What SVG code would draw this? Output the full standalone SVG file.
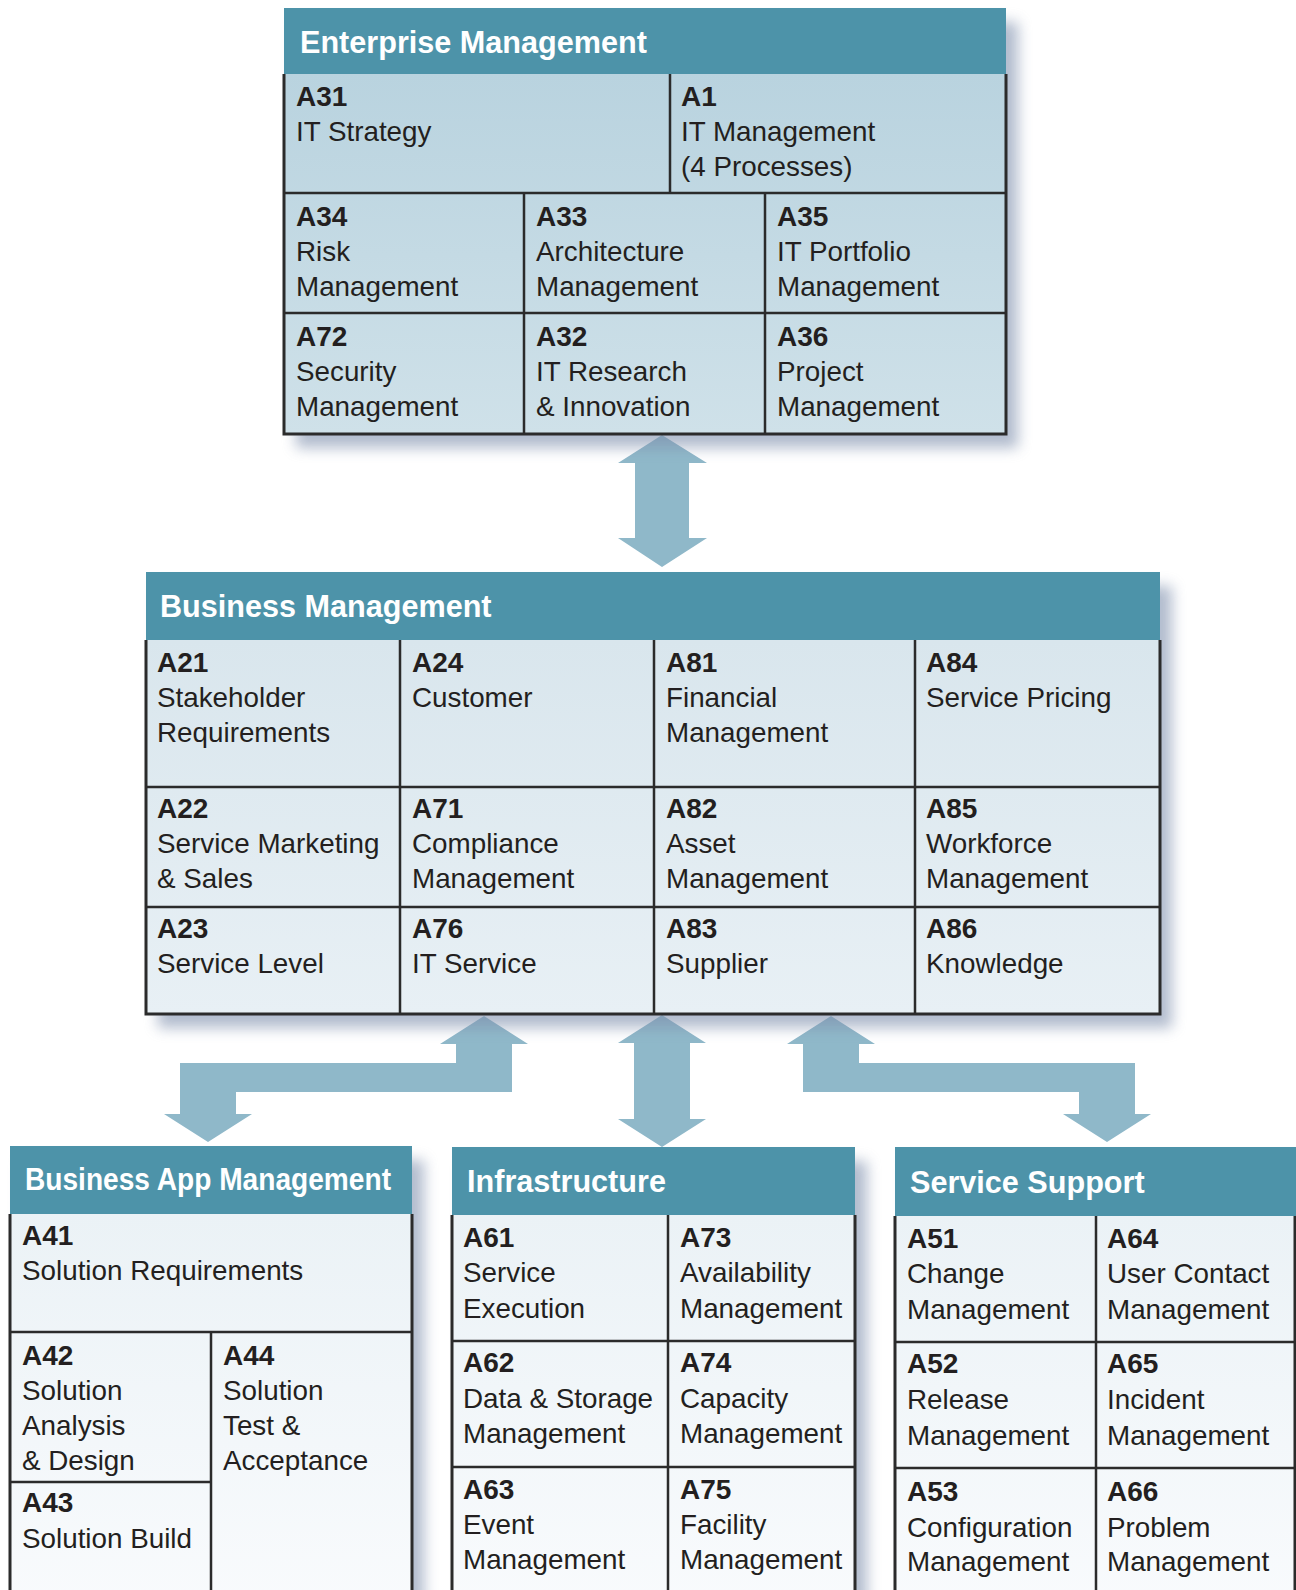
<svg xmlns="http://www.w3.org/2000/svg" width="1296" height="1590" viewBox="0 0 1296 1590">
  <defs>
    <style>
      .hdr { fill: #4d93a9; }
      .ht { font-family: "Liberation Sans", Arial, sans-serif; font-weight: bold; font-size: 30.6px; fill: #ffffff; }
      .id { font-family: "Liberation Sans", Arial, sans-serif; font-weight: bold; font-size: 28px; fill: #231f20; }
      .tx { font-family: "Liberation Sans", Arial, sans-serif; font-size: 27.8px; fill: #231f20; }
      .grid { stroke: #2b2b2b; stroke-width: 2.5; fill: none; }
      .edge { stroke: #2b2b2b; stroke-width: 3; fill: none; }
      .shadow { fill: #7f90ad; opacity: 0.6; filter: url(#soft); }
      .arrow { fill: #8fb8c9; }
    </style>
    <filter id="soft" x="-10%" y="-10%" width="130%" height="130%">
      <feGaussianBlur stdDeviation="7"/>
    </filter>
    <linearGradient id="gEnt" x1="0" y1="0" x2="0" y2="1">
      <stop offset="0" stop-color="#b9d3df"/>
      <stop offset="1" stop-color="#cfe1e9"/>
    </linearGradient>
    <linearGradient id="gBiz" x1="0" y1="0" x2="0" y2="1">
      <stop offset="0" stop-color="#d9e6ed"/>
      <stop offset="1" stop-color="#e8f0f5"/>
    </linearGradient>
    <linearGradient id="gLow" x1="0" y1="0" x2="0" y2="1">
      <stop offset="0" stop-color="#ebf2f6"/>
      <stop offset="1" stop-color="#f9fbfd"/>
    </linearGradient>
  </defs>

  <rect width="1296" height="1590" fill="#ffffff"/>

  <!-- block arrows between the layers -->
  <g id="connectors">
    <polygon class="arrow" points="662,435 707,463 689,463 689,538 707,538 662,567 618,538 635,538 635,463 618,463"/>
    <polygon class="arrow" points="484,1016 528,1044 512,1044 512,1092 236,1092 236,1114 252,1114 208,1142 164,1114 180,1114 180,1063 456,1063 456,1044 440,1044"/>
    <polygon class="arrow" points="662,1015 706,1043 690,1043 690,1119 706,1119 662,1147 618,1119 634,1119 634,1043 618,1043"/>
    <polygon class="arrow" points="831,1016 875,1044 859,1044 859,1063 1135,1063 1135,1114 1151,1114 1107,1142 1063,1114 1079,1114 1079,1092 803,1092 803,1044 787,1044"/>
  </g>

  <!-- Enterprise Management -->
  <g id="enterprise-management">
    <rect class="shadow" x="296" y="22" width="722" height="426"/>
    <rect class="hdr" x="284" y="8" width="722" height="66"/>
    <rect x="284" y="74" width="722" height="360" fill="url(#gEnt)"/>
    <path class="grid" d="M284,193H1006M284,313H1006M670,74V193M524,193V434M765,193V434"/>
    <path class="edge" d="M284,74V434H1006V74"/>
    <text class="ht" x="300" y="53">Enterprise Management</text>
    <g id="a31"><text class="id" x="296" y="106">A31</text><text class="tx" x="296" y="141">IT Strategy</text></g>
    <g id="a1"><text class="id" x="681" y="106">A1</text><text class="tx" x="681" y="141">IT Management</text><text class="tx" x="681" y="176">(4 Processes)</text></g>
    <g id="a34"><text class="id" x="296" y="226">A34</text><text class="tx" x="296" y="261">Risk</text><text class="tx" x="296" y="296">Management</text></g>
    <g id="a33"><text class="id" x="536" y="226">A33</text><text class="tx" x="536" y="261">Architecture</text><text class="tx" x="536" y="296">Management</text></g>
    <g id="a35"><text class="id" x="777" y="226">A35</text><text class="tx" x="777" y="261">IT Portfolio</text><text class="tx" x="777" y="296">Management</text></g>
    <g id="a72"><text class="id" x="296" y="346">A72</text><text class="tx" x="296" y="381">Security</text><text class="tx" x="296" y="416">Management</text></g>
    <g id="a32"><text class="id" x="536" y="346">A32</text><text class="tx" x="536" y="381">IT Research</text><text class="tx" x="536" y="416">&amp; Innovation</text></g>
    <g id="a36"><text class="id" x="777" y="346">A36</text><text class="tx" x="777" y="381">Project</text><text class="tx" x="777" y="416">Management</text></g>
  </g>

  <!-- Business Management -->
  <g id="business-management">
    <rect class="shadow" x="158" y="586" width="1014" height="442"/>
    <rect class="hdr" x="146" y="572" width="1014" height="68"/>
    <rect x="146" y="640" width="1014" height="374" fill="url(#gBiz)"/>
    <path class="grid" d="M146,787H1160M146,907H1160M400,640V1014M654,640V1014M915,640V1014"/>
    <path class="edge" d="M146,640V1014H1160V640"/>
    <text class="ht" x="160" y="617">Business Management</text>
    <g id="a21"><text class="id" x="157" y="672">A21</text><text class="tx" x="157" y="707">Stakeholder</text><text class="tx" x="157" y="742">Requirements</text></g>
    <g id="a24"><text class="id" x="412" y="672">A24</text><text class="tx" x="412" y="707">Customer</text></g>
    <g id="a81"><text class="id" x="666" y="672">A81</text><text class="tx" x="666" y="707">Financial</text><text class="tx" x="666" y="742">Management</text></g>
    <g id="a84"><text class="id" x="926" y="672">A84</text><text class="tx" x="926" y="707">Service Pricing</text></g>
    <g id="a22"><text class="id" x="157" y="818">A22</text><text class="tx" x="157" y="853">Service Marketing</text><text class="tx" x="157" y="888">&amp; Sales</text></g>
    <g id="a71"><text class="id" x="412" y="818">A71</text><text class="tx" x="412" y="853">Compliance</text><text class="tx" x="412" y="888">Management</text></g>
    <g id="a82"><text class="id" x="666" y="818">A82</text><text class="tx" x="666" y="853">Asset</text><text class="tx" x="666" y="888">Management</text></g>
    <g id="a85"><text class="id" x="926" y="818">A85</text><text class="tx" x="926" y="853">Workforce</text><text class="tx" x="926" y="888">Management</text></g>
    <g id="a23"><text class="id" x="157" y="938">A23</text><text class="tx" x="157" y="973">Service Level</text></g>
    <g id="a76"><text class="id" x="412" y="938">A76</text><text class="tx" x="412" y="973">IT Service</text></g>
    <g id="a83"><text class="id" x="666" y="938">A83</text><text class="tx" x="666" y="973">Supplier</text></g>
    <g id="a86"><text class="id" x="926" y="938">A86</text><text class="tx" x="926" y="973">Knowledge</text></g>
  </g>

  <!-- Business App Management -->
  <g id="business-app-management">
    <rect class="shadow" x="22" y="1160" width="402" height="460"/>
    <rect class="hdr" x="10" y="1146" width="402" height="68"/>
    <rect x="10" y="1214" width="402" height="400" fill="url(#gLow)"/>
    <path class="grid" d="M10,1332H412M10,1482H211M211,1332V1600"/>
    <path class="edge" d="M10,1214V1600M412,1214V1600"/>
    <text class="ht" x="25" y="1190" textLength="366" lengthAdjust="spacingAndGlyphs">Business App Management</text>
    <g id="a41"><text class="id" x="22" y="1245">A41</text><text class="tx" x="22" y="1280">Solution Requirements</text></g>
    <g id="a42"><text class="id" x="22" y="1365">A42</text><text class="tx" x="22" y="1400">Solution</text><text class="tx" x="22" y="1435">Analysis</text><text class="tx" x="22" y="1470">&amp; Design</text></g>
    <g id="a44"><text class="id" x="223" y="1365">A44</text><text class="tx" x="223" y="1400">Solution</text><text class="tx" x="223" y="1435">Test &amp;</text><text class="tx" x="223" y="1470">Acceptance</text></g>
    <g id="a43"><text class="id" x="22" y="1512">A43</text><text class="tx" x="22" y="1548">Solution Build</text></g>
  </g>

  <!-- Infrastructure -->
  <g id="infrastructure">
    <rect class="shadow" x="464" y="1161" width="403" height="460"/>
    <rect class="hdr" x="452" y="1147" width="403" height="68"/>
    <rect x="452" y="1215" width="403" height="400" fill="url(#gLow)"/>
    <path class="grid" d="M452,1341H855M452,1467H855M668,1215V1600"/>
    <path class="edge" d="M452,1215V1600M855,1215V1600"/>
    <text class="ht" x="467" y="1192">Infrastructure</text>
    <g id="a61"><text class="id" x="463" y="1247">A61</text><text class="tx" x="463" y="1282">Service</text><text class="tx" x="463" y="1318">Execution</text></g>
    <g id="a73"><text class="id" x="680" y="1247">A73</text><text class="tx" x="680" y="1282">Availability</text><text class="tx" x="680" y="1318">Management</text></g>
    <g id="a62"><text class="id" x="463" y="1372">A62</text><text class="tx" x="463" y="1408">Data &amp; Storage</text><text class="tx" x="463" y="1443">Management</text></g>
    <g id="a74"><text class="id" x="680" y="1372">A74</text><text class="tx" x="680" y="1408">Capacity</text><text class="tx" x="680" y="1443">Management</text></g>
    <g id="a63"><text class="id" x="463" y="1499">A63</text><text class="tx" x="463" y="1534">Event</text><text class="tx" x="463" y="1569">Management</text></g>
    <g id="a75"><text class="id" x="680" y="1499">A75</text><text class="tx" x="680" y="1534">Facility</text><text class="tx" x="680" y="1569">Management</text></g>
  </g>

  <!-- Service Support -->
  <g id="service-support">
    <rect class="shadow" x="907" y="1161" width="402" height="460"/>
    <rect class="hdr" x="895" y="1147" width="405" height="69"/>
    <rect x="895" y="1216" width="400" height="400" fill="url(#gLow)"/>
    <path class="grid" d="M895,1342H1295M895,1468H1295M1096,1216V1600"/>
    <path class="edge" d="M895,1216V1600M1295,1216V1600"/>
    <text class="ht" x="910" y="1193">Service Support</text>
    <g id="a51"><text class="id" x="907" y="1248">A51</text><text class="tx" x="907" y="1283">Change</text><text class="tx" x="907" y="1319">Management</text></g>
    <g id="a64"><text class="id" x="1107" y="1248">A64</text><text class="tx" x="1107" y="1283">User Contact</text><text class="tx" x="1107" y="1319">Management</text></g>
    <g id="a52"><text class="id" x="907" y="1373">A52</text><text class="tx" x="907" y="1409">Release</text><text class="tx" x="907" y="1445">Management</text></g>
    <g id="a65"><text class="id" x="1107" y="1373">A65</text><text class="tx" x="1107" y="1409">Incident</text><text class="tx" x="1107" y="1445">Management</text></g>
    <g id="a53"><text class="id" x="907" y="1501">A53</text><text class="tx" x="907" y="1537">Configuration</text><text class="tx" x="907" y="1571">Management</text></g>
    <g id="a66"><text class="id" x="1107" y="1501">A66</text><text class="tx" x="1107" y="1537">Problem</text><text class="tx" x="1107" y="1571">Management</text></g>
  </g>
</svg>
